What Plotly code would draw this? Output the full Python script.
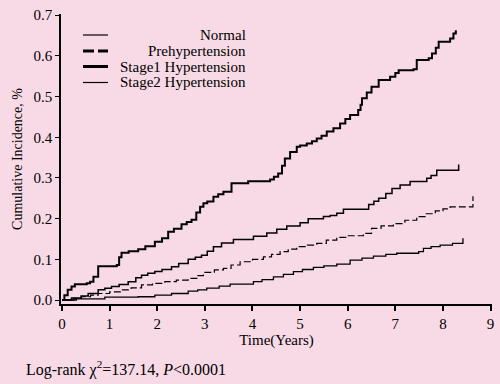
import plotly.graph_objects as go

# ---- data ----
series_names = ["Normal", "Prehypertension", "Stage1 Hypertension", "Stage2 Hypertension"]

stage1_t = [0, 0.05, 0.12, 0.2, 0.27, 0.52, 0.59, 0.66, 0.76, 1.15, 1.2, 1.25, 1.4, 1.6, 1.75, 1.95,
            2.1, 2.23, 2.35, 2.51, 2.62, 2.72, 2.82, 2.9, 2.97, 3.05, 3.18, 3.28, 3.39, 3.56, 3.91,
            4.37, 4.45, 4.54, 4.62, 4.68, 4.79, 4.93, 5.0, 5.14, 5.25, 5.35, 5.45, 5.56, 5.7, 5.84,
            5.95, 6.05, 6.22, 6.27, 6.3, 6.4, 6.5, 6.65, 6.89, 7.0, 7.07, 7.38, 7.45, 7.7, 7.77,
            7.85, 7.91, 8.15, 8.22, 8.27]
stage1_v = [0, 0.012, 0.025, 0.033, 0.039, 0.041, 0.045, 0.057, 0.083, 0.086, 0.105, 0.116, 0.12,
            0.125, 0.132, 0.143, 0.152, 0.168, 0.175, 0.186, 0.192, 0.197, 0.215, 0.229, 0.238,
            0.242, 0.254, 0.26, 0.266, 0.287, 0.292, 0.296, 0.303, 0.311, 0.33, 0.348, 0.364,
            0.377, 0.38, 0.385, 0.39, 0.397, 0.404, 0.414, 0.422, 0.434, 0.445, 0.455, 0.467,
            0.48, 0.496, 0.51, 0.524, 0.541, 0.549, 0.558, 0.565, 0.567, 0.59, 0.594, 0.606,
            0.62, 0.635, 0.643, 0.655, 0.663]

stage2_t = [0, 0.2, 0.4, 0.55, 0.76, 0.9, 1.04, 1.2, 1.39, 1.55, 1.67, 1.8, 1.95, 2.1, 2.3, 2.45,
            2.65, 2.8, 2.93, 3.05, 3.18, 3.35, 3.6, 4.02, 4.3, 4.51, 4.72, 5.0, 5.17, 5.49, 5.63,
            5.77, 5.91, 6.44, 6.55, 6.65, 6.8, 6.93, 7.1, 7.31, 7.66, 7.75, 7.87, 8.33]
stage2_v = [0, 0.005, 0.01, 0.016, 0.025, 0.029, 0.033, 0.038, 0.045, 0.055, 0.061, 0.066, 0.07,
            0.075, 0.082, 0.09, 0.1, 0.105, 0.11, 0.12, 0.131, 0.14, 0.149, 0.157, 0.165, 0.174,
            0.182, 0.19, 0.2, 0.205, 0.208, 0.213, 0.223, 0.235, 0.243, 0.25, 0.262, 0.274,
            0.283, 0.291, 0.299, 0.306, 0.319, 0.333]

prehyp_t = [0, 0.25, 0.41, 0.6, 0.76, 1.0, 1.25, 1.45, 1.67, 1.9, 2.16, 2.4, 2.65, 2.85, 2.97,
            3.2, 3.39, 3.55, 3.74, 4.0, 4.23, 4.4, 4.58, 4.75, 4.93, 5.15, 5.35, 5.55, 5.77, 6.0,
            6.33, 6.5, 6.7, 6.96, 7.2, 7.45, 7.65, 7.84, 8.0, 8.15, 8.63]
prehyp_v = [0, 0.004, 0.008, 0.012, 0.016, 0.02, 0.025, 0.03, 0.037, 0.041, 0.045, 0.049, 0.053,
            0.06, 0.068, 0.074, 0.078, 0.086, 0.094, 0.1, 0.106, 0.112, 0.119, 0.125, 0.131,
            0.135, 0.139, 0.147, 0.154, 0.158, 0.164, 0.176, 0.182, 0.188, 0.196, 0.205, 0.212,
            0.219, 0.224, 0.229, 0.255]

normal_t = [0, 0.3, 0.9, 1.6, 1.95, 2.3, 2.65, 2.85, 3.04, 3.3, 3.53, 4.02, 4.2, 4.44, 4.65, 4.86,
            5.05, 5.28, 5.5, 5.77, 6.05, 6.3, 6.54, 6.8, 7.03, 7.49, 7.59, 7.75, 7.94, 8.2, 8.42]
normal_v = [0, 0.003, 0.007, 0.008, 0.012, 0.016, 0.022, 0.025, 0.029, 0.034, 0.039, 0.045, 0.05,
            0.057, 0.063, 0.07, 0.075, 0.08, 0.084, 0.088, 0.098, 0.103, 0.108, 0.112, 0.115,
            0.119, 0.127, 0.131, 0.135, 0.139, 0.152]

x_ticks = [0, 1, 2, 3, 4, 5, 6, 7, 8, 9]
y_ticks = [0.0, 0.1, 0.2, 0.3, 0.4, 0.5, 0.6, 0.7]

# ---- styling ----
BG = "#f8dae6"
FONT = "Liberation Serif, Times New Roman, serif"
W, H = 500, 384
ML, MR, MT, MB = 61, 8, 14, 80
PW, PH = W - ML - MR, H - MT - MB

def px_x(p):
    return (p - ML) / PW

def px_y(p):
    return (H - MB - p) / PH

fig = go.Figure()
styles = {
    "Normal": dict(width=1.3, dash="solid"),
    "Prehypertension": dict(width=1.2, dash="7px,3px"),
    "Stage1 Hypertension": dict(width=2, dash="solid"),
    "Stage2 Hypertension": dict(width=1.5, dash="solid"),
}
data = {
    "Normal": (normal_t, normal_v),
    "Prehypertension": (prehyp_t, prehyp_v),
    "Stage1 Hypertension": (stage1_t, stage1_v),
    "Stage2 Hypertension": (stage2_t, stage2_v),
}
for name in series_names:
    t, v = data[name]
    fig.add_trace(go.Scatter(x=t, y=v, mode="lines", name=name, line_shape="hv",
                             line=dict(color="black", **styles[name]), showlegend=False))

# manual legend (line sample + right-aligned label)
legend_y = [35, 51, 66.5, 82.5]
legend_styles = [dict(width=1.2, dash="solid"), dict(width=3, dash="11px,4px"),
                 dict(width=3, dash="solid"), dict(width=1.2, dash="solid")]
shapes = []
annotations = []
for name, yy, st in zip(series_names, legend_y, legend_styles):
    shapes.append(dict(type="line", xref="paper", yref="paper", x0=px_x(83), x1=px_x(108),
                       y0=px_y(yy), y1=px_y(yy), line=dict(color="black", **st)))
    annotations.append(dict(text=name, xref="paper", yref="paper", x=px_x(248), y=px_y(yy),
                            xanchor="right", yanchor="middle", showarrow=False,
                            font=dict(family=FONT, size=15, color="black")))

annotations.append(dict(text="Log-rank χ<sup>2</sup>=137.14, <i>P</i>&lt;0.0001", xref="paper",
                        yref="paper", x=px_x(24), y=px_y(369), xanchor="left", yanchor="middle",
                        showarrow=False, font=dict(family=FONT, size=16, color="black")))

fig.update_layout(
    width=W, height=H,
    margin=dict(l=ML, r=MR, t=MT, b=MB, pad=0, autoexpand=False),
    paper_bgcolor=BG, plot_bgcolor=BG,
    font=dict(family=FONT, size=15, color="black"),
    shapes=shapes, annotations=annotations,
    xaxis=dict(range=[-0.021, 9.03], tickvals=x_ticks, ticktext=[str(v) for v in x_ticks],
               showline=True, linecolor="black", linewidth=2, ticks="outside", ticklen=5,
               tickwidth=1.5, tickcolor="black", showgrid=False, zeroline=False, automargin=False,
               title=dict(text="Time(Years)", standoff=3, font=dict(size=15))),
    yaxis=dict(range=[-0.0098, 0.703], tickvals=y_ticks, ticktext=[f"{v:.1f}" for v in y_ticks],
               showline=True, linecolor="black", linewidth=1.5, ticks="outside", ticklen=4,
               tickwidth=1.2, tickcolor="black", showgrid=False, zeroline=False, automargin=False,
               title=dict(text="Cumulative Incidence, %", standoff=8, font=dict(size=14))),
)

fig.write_html("out.html", config={"displayModeBar": False},
               post_script="document.body.style.margin='0';document.body.style.background='%s';" % BG)
